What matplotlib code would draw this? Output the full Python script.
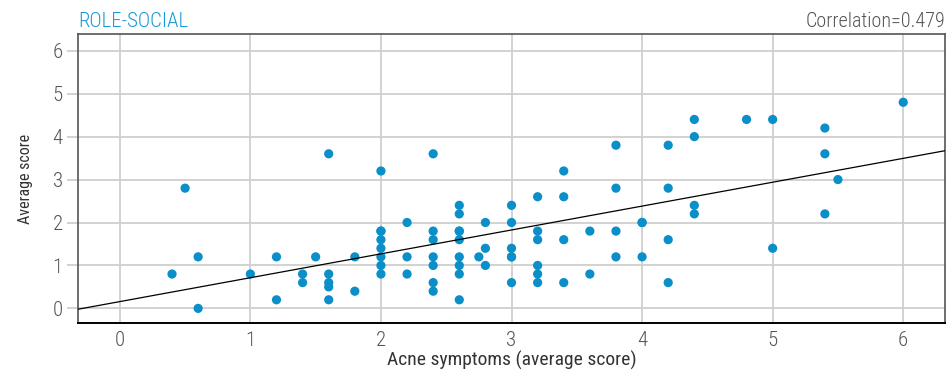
import matplotlib
matplotlib.use("Agg")
import matplotlib.pyplot as plt

# data
acne = [0.4, 0.5, 0.6, 0.6,
        1.0, 1.2, 1.2, 1.4, 1.4, 1.5,
        1.6, 1.6, 1.6, 1.6, 1.6, 1.8, 1.8,
        2.0, 2.0, 2.0, 2.0, 2.0, 2.0, 2.0, 2.0,
        2.2, 2.2, 2.2,
        2.4, 2.4, 2.4, 2.4, 2.4, 2.4, 2.4,
        2.6, 2.6, 2.6, 2.6, 2.6, 2.6, 2.6, 2.6, 2.6,
        2.75, 2.8, 2.8, 2.8,
        3.0, 3.0, 3.0, 3.0, 3.0, 3.0,
        3.2, 3.2, 3.2, 3.2, 3.2, 3.2,
        3.4, 3.4, 3.4, 3.4,
        3.6, 3.6,
        3.8, 3.8, 3.8, 3.8,
        4.0, 4.0, 4.0,
        4.2, 4.2, 4.2, 4.2,
        4.4, 4.4, 4.4, 4.4,
        4.8, 5.0, 5.0,
        5.4, 5.4, 5.4, 5.5, 6.0]
score = [0.8, 2.8, 1.2, 0.0,
         0.8, 1.2, 0.2, 0.8, 0.6, 1.2,
         3.6, 0.8, 0.6, 0.5, 0.2, 1.2, 0.4,
         3.2, 1.8, 1.8, 1.6, 1.4, 1.2, 1.0, 0.8,
         2.0, 1.2, 0.8,
         3.6, 1.8, 1.6, 1.2, 1.0, 0.6, 0.4,
         2.4, 2.2, 1.8, 1.8, 1.6, 1.2, 1.0, 0.8, 0.2,
         1.2, 2.0, 1.4, 1.0,
         2.4, 2.0, 1.4, 1.2, 1.2, 0.6,
         2.6, 1.8, 1.6, 1.0, 0.8, 0.6,
         3.2, 2.6, 1.6, 0.6,
         1.8, 0.8,
         3.8, 2.8, 1.8, 1.2,
         2.0, 2.0, 1.2,
         3.8, 2.8, 1.6, 0.6,
         4.4, 4.0, 2.4, 2.2,
         4.4, 4.4, 1.4,
         4.2, 3.6, 2.2, 3.0, 4.8]
fit_intercept = 0.158
fit_slope = 0.556
correlation = 0.479
title = "ROLE-SOCIAL"
ticks = [0, 1, 2, 3, 4, 5, 6]

plt.rcParams['font.family'] = ["Roboto Condensed", "DejaVu Sans"]
plt.rcParams['font.weight'] = 'light'

fig = plt.figure(figsize=(9.49, 3.76), dpi=100)
ax = fig.add_axes([0.0822, 0.141, 0.9136, 0.7686])

ax.scatter(acne, score, s=44, color='#0a8fc8', edgecolors='none', zorder=3)
ax.axline((0, fit_intercept), slope=fit_slope, color='black', lw=0.9, zorder=4)

ax.set_xlim(-0.32, 6.32)
ax.set_ylim(-0.34, 6.39)
ax.set_xticks(ticks)
ax.set_yticks(ticks)
ax.grid(True, color='#cfcfcf', lw=1.3)
ax.set_axisbelow(True)

ax.tick_params(axis='x', length=0, pad=6, labelsize=15, labelcolor='#555555')
ax.tick_params(axis='y', length=8, width=1.3, color='#cfcfcf', pad=3,
               labelsize=15, labelcolor='#555555')

for side in ['left', 'top', 'right']:
    ax.spines[side].set_color('#555555')
    ax.spines[side].set_linewidth(1.2)
ax.spines['bottom'].set_color('black')
ax.spines['bottom'].set_linewidth(1.4)

ax.set_xlabel("Acne symptoms (average score)", fontsize=14, color='#333333', labelpad=0)
ax.set_ylabel("Average score", fontsize=11.5, color='#333333', labelpad=14)

ax.text(0, 1.024, title, transform=ax.transAxes, fontsize=15, color='#1a9ad6',
        ha='left', va='baseline')
ax.text(1, 1.024, f"Correlation={correlation}", transform=ax.transAxes, fontsize=14.5,
        color='#555555', ha='right', va='baseline')

fig.savefig("out.png", dpi=100)
